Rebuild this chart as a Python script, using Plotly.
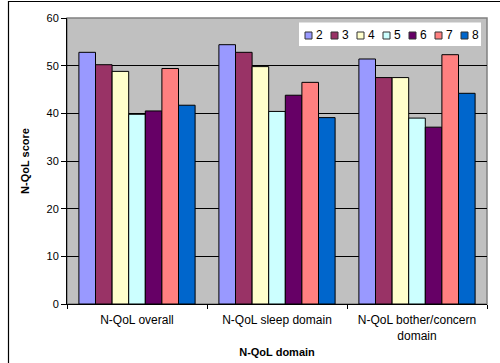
import plotly.graph_objects as go

# N-QoL domain scores by visit
domains = ["N-QoL overall", "N-QoL sleep domain", "N-QoL bother/concern<br>domain"]
series_names = ["2", "3", "4", "5", "6", "7", "8"]
scores = {
    "2": [52.8, 54.4, 51.4],
    "3": [50.2, 52.8, 47.5],
    "4": [48.8, 49.8, 47.5],
    "5": [39.8, 40.4, 39.0],
    "6": [40.5, 43.8, 37.1],
    "7": [49.4, 46.5, 52.3],
    "8": [41.7, 39.1, 44.2],
}
colors = ["#9999FF", "#993366", "#FFFFCC", "#CCFFFF", "#660066", "#FF8080", "#0066CC"]
y_ticks = [0, 10, 20, 30, 40, 50, 60]

W, H = 500, 363
ML, MR, MT, MB = 67, 13, 18, 59
PW, PH = W - ML - MR, H - MT - MB


def px_x(p):
    return (p - ML) / PW


def px_y(p):
    return (H - MB - p) / PH


fig = go.Figure()
for name, col in zip(series_names, colors):
    fig.add_trace(go.Bar(
        x=domains, y=scores[name], name=name,
        marker=dict(color=col, line=dict(color="black", width=1)),
        showlegend=False,
    ))

shapes = [
    # grey plot-area frame
    dict(type="rect", xref="paper", yref="paper", x0=0, x1=1, y0=0, y1=1,
         line=dict(color="#808080", width=1.5), layer="below"),
    # outer chart frame
    dict(type="rect", xref="paper", yref="paper",
         x0=px_x(8.5), x1=px_x(520), y0=px_y(380), y1=px_y(1.5),
         line=dict(color="black", width=1.2)),
    # legend box
    dict(type="rect", xref="paper", yref="paper",
         x0=px_x(299), x1=px_x(481), y0=px_y(46), y1=px_y(22.5),
         fillcolor="white", line=dict(width=0)),
]
annotations = []
for i, (name, col) in enumerate(zip(series_names, colors)):
    sx = 305 + 26 * i
    shapes.append(dict(type="rect", xref="paper", yref="paper",
                       x0=px_x(sx), x1=px_x(sx + 7), y0=px_y(39), y1=px_y(32),
                       fillcolor=col, line=dict(color="#333333", width=1)))
    annotations.append(dict(xref="paper", yref="paper", x=px_x(sx + 9), y=px_y(35.5),
                            text=name, showarrow=False, xanchor="left", yanchor="middle",
                            font=dict(size=12, color="black")))

fig.update_layout(
    width=W, height=H,
    margin=dict(l=ML, r=MR, t=MT, b=MB),
    paper_bgcolor="white", plot_bgcolor="#C0C0C0",
    font=dict(family="Liberation Sans, Arial, sans-serif", size=11, color="black"),
    barmode="group", bargap=0.17, bargroupgap=0,
    shapes=shapes, annotations=annotations,
    xaxis=dict(
        automargin=False,
        showline=True, linecolor="black", linewidth=1,
        ticks="outside", ticklen=4, tickcolor="black", tickson="boundaries",
        tickfont=dict(size=12), ticklabelstandoff=5,
        showgrid=False,
        title=dict(text="<b>N-QoL domain</b>", font=dict(size=11), standoff=6),
    ),
    yaxis=dict(
        automargin=False,
        range=[0, 60], tickvals=y_ticks,
        showline=True, linecolor="black", linewidth=1,
        ticks="outside", ticklen=5, tickcolor="black",
        showgrid=True, gridcolor="black", gridwidth=1,
        zeroline=False,
        title=dict(text="<b>N-QoL score</b>", font=dict(size=11), standoff=14),
    ),
)

fig.write_html("out.html")
